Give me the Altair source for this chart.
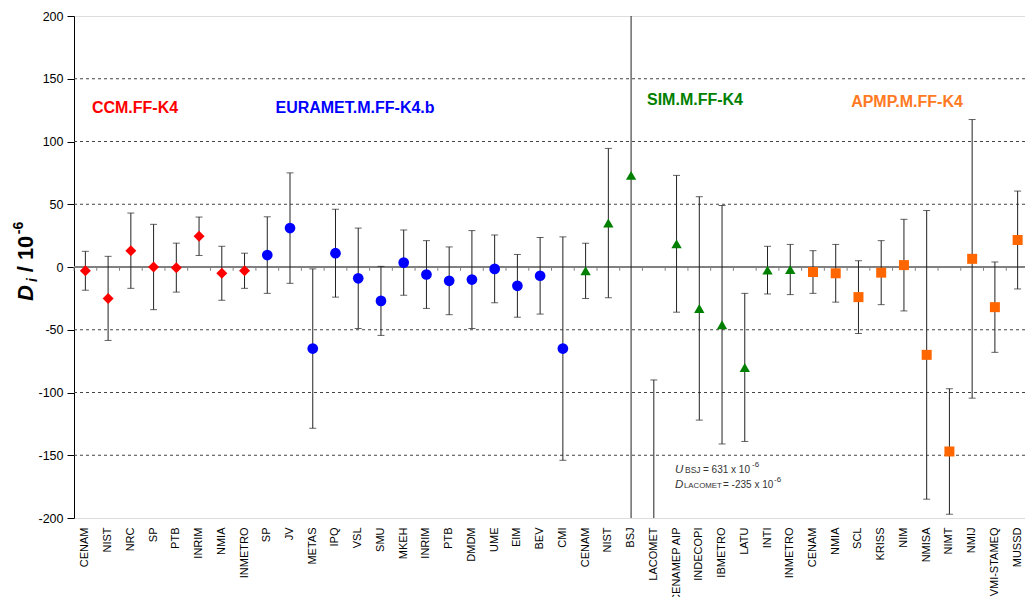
import altair as alt
import pandas as pd

# ---------------- data ----------------
groups = ["CCM.FF-K4", "EURAMET.M.FF-K4.b", "SIM.M.FF-K4", "APMP.M.FF-K4"]

ccm_labs = ["CENAM", "NIST", "NRC", "SP", "PTB", "INRIM", "NMIA", "INMETRO"]
ccm_d = [-3, -25, 13, 0, -0.5, 24.5, -5, -3]
ccm_u = [15.5, 33.5, 30, 34, 19.5, 15.3, 21.5, 14]

eur_labs = ["SP", "JV", "METAS", "IPQ", "VSL", "SMU", "MKEH", "INRIM", "PTB",
            "DMDM", "UME", "EIM", "BEV", "CMI"]
eur_d = [9.5, 31, -65, 11, -9, -27, 3.5, -6, -11, -10, -1.5, -15, -7, -65]
eur_u = [30.5, 44, 63.5, 35, 40, 27.5, 26, 27, 27, 39, 27, 25, 30.5, 89]

sim_labs = ["CENAM", "NIST", "BSJ", "LACOMET", "CENAMEP AIP", "INDECOPI",
            "IBMETRO", "LATU", "INTI", "INMETRO"]
sim_d = [-3, 35, 73, -235, 18.5, -33, -46, -80, -2.5, -2]
sim_u = [22, 59.5, 631, 145, 54.5, 89, 95, 59, 19, 20]

apmp_labs = ["CENAM", "NMIA", "SCL", "KRISS", "NIM", "NMISA", "NIMT", "NMIJ",
             "VMI-STAMEQ", "MUSSD"]
apmp_d = [-4, -5, -24, -4.5, 1.5, -70, -147, 6.5, -32, 21.5]
apmp_u = [17, 23, 29, 25.5, 36.5, 115, 50, 111, 36, 39]

grid_vals = [150, 100, 50, -50, -100, -150]
y_ticks = [200, 150, 100, 50, 0, -50, -100, -150, -200]

# ---------------- table ----------------
rows = []
for g, labs, ds, us in zip(groups,
                           [ccm_labs, eur_labs, sim_labs, apmp_labs],
                           [ccm_d, eur_d, sim_d, apmp_d],
                           [ccm_u, eur_u, sim_u, apmp_u]):
    for lab, d, u in zip(labs, ds, us):
        rows.append({"group": g, "name": lab, "D": d, "lo": d - u, "hi": d + u})
for i, r in enumerate(rows):
    r["key"] = f"{i:02d}|{r['name']}"
df = pd.DataFrame(rows)
keys = list(df["key"])

FONT = "Liberation Sans"
colors = ["#FF0000", "#0000FF", "#008000", "#FF6600"]
shapes = ["diamond", "circle", "triangle-up", "square"]
sizes = [121, 100, 100, 72]

xscale = alt.Scale(type="band", domain=keys, range=[0, 955],
                   paddingInner=0, paddingOuter=0)
yscale = alt.Scale(domain=[-200, 200], nice=False, zero=False)

X = alt.X("key:N", scale=xscale,
          axis=alt.Axis(title=None, labelAngle=-90, labelExpr="split(datum.value, '|')[1]",
                        domain=False, ticks=False, labelPadding=9, labelFont=FONT,
                        labelFontSize=11, labelColor="#000", labelOverlap=False))
Y = alt.Y("D:Q", scale=yscale,
          axis=alt.Axis(title=None, values=y_ticks, grid=False, domainColor="#000",
                        tickColor="#000", tickSize=7, labelPadding=4, labelFont=FONT,
                        labelFontSize=12.5, labelColor="#000",
                        labelExpr="'' + datum.value"))

base = alt.Chart(df)

grid = alt.Chart(pd.DataFrame({"g": grid_vals})).mark_rule(
    color="#444", strokeDash=[3, 3], strokeWidth=1
).encode(y=alt.Y("g:Q", scale=yscale))

zero = alt.Chart(pd.DataFrame({"z": [0]})).mark_rule(
    color="#808080", strokeWidth=2
).encode(y=alt.Y("z:Q", scale=yscale))

bticks = base.transform_calculate(t0="0", t1="-3").mark_rule(
    color="#808080", strokeWidth=1
).encode(x=alt.X("key:N", scale=xscale, bandPosition=0),
         y=alt.Y("t0:Q", scale=yscale), y2="t1:Q")

bars = base.mark_rule(color="#222", strokeWidth=1, clip=True).encode(
    x=alt.X("key:N", scale=xscale), y=alt.Y("lo:Q", scale=yscale), y2="hi:Q")
cap_hi = base.mark_tick(color="#222", thickness=1, size=7, clip=True).encode(
    x=alt.X("key:N", scale=xscale), y=alt.Y("hi:Q", scale=yscale))
cap_lo = base.mark_tick(color="#222", thickness=1, size=7, clip=True).encode(
    x=alt.X("key:N", scale=xscale), y=alt.Y("lo:Q", scale=yscale))

pts = base.mark_point(filled=True, opacity=1, clip=True, strokeWidth=0).encode(
    x=X, y=Y,
    color=alt.Color("group:N", scale=alt.Scale(domain=groups, range=colors), legend=None),
    shape=alt.Shape("group:N", scale=alt.Scale(domain=groups, range=shapes), legend=None),
    size=alt.Size("group:O", scale=alt.Scale(domain=groups, range=sizes), legend=None),
)

one = pd.DataFrame({"a": [0]})


def txt(s, x, y, size, color="#000", weight="normal", style="normal",
        align="left", baseline="alphabetic", angle=0):
    return alt.Chart(one).mark_text(
        text=s, font=FONT, fontSize=size, color=color, fontWeight=weight,
        fontStyle=style, align=align, baseline=baseline, angle=angle
    ).encode(x=alt.value(x), y=alt.value(y))


labels = [
    txt("CCM.FF-K4", 61, 92, 16, colors[0], "bold", align="center", baseline="middle"),
    txt("EURAMET.M.FF-K4.b", 281, 92, 16, colors[1], "bold", align="center", baseline="middle"),
    txt("SIM.M.FF-K4", 621, 84, 16, colors[2], "bold", align="center", baseline="middle"),
    txt("APMP.M.FF-K4", 833, 86, 16, "#FF7A22", "bold", align="center", baseline="middle"),
]

ann = [
    txt("U", 601, 457, 11.5, "#333", style="italic"),
    txt("BSJ", 611, 457, 8.5, "#333"),
    txt("= 631 x 10", 629, 457, 10, "#333"),
    txt("-6", 678, 451, 8, "#333"),
    txt("D", 601, 472, 11.5, "#333", style="italic"),
    txt("LACOMET", 610, 472, 7.8, "#333"),
    txt("= -235 x 10", 649, 472, 10, "#333"),
    txt("-6", 700, 466, 8, "#333"),
]

ytitle = [
    txt("D", -48, 277, 22, "#000", "bold", "italic", "center", "middle", 270),
    txt("i", -41, 264, 14, "#000", "bold", "italic", "center", "middle", 270),
    txt("/ 10", -48, 238, 22, "#000", "bold", "normal", "center", "middle", 270),
    txt("-6", -55, 212, 14, "#000", "bold", "normal", "center", "middle", 270),
]

chart = alt.layer(grid, zero, bticks, bars, cap_hi, cap_lo, pts, *labels, *ann, *ytitle).properties(
    width=951, height=502,
    autosize=alt.AutoSizeParams(type="none"),
    padding={"left": 66, "top": 8, "right": 0, "bottom": 79},
).configure_view(stroke="#808080", strokeWidth=1).configure(background="white")

chart.save("out.html", embed_options={"renderer": "svg", "actions": False})
